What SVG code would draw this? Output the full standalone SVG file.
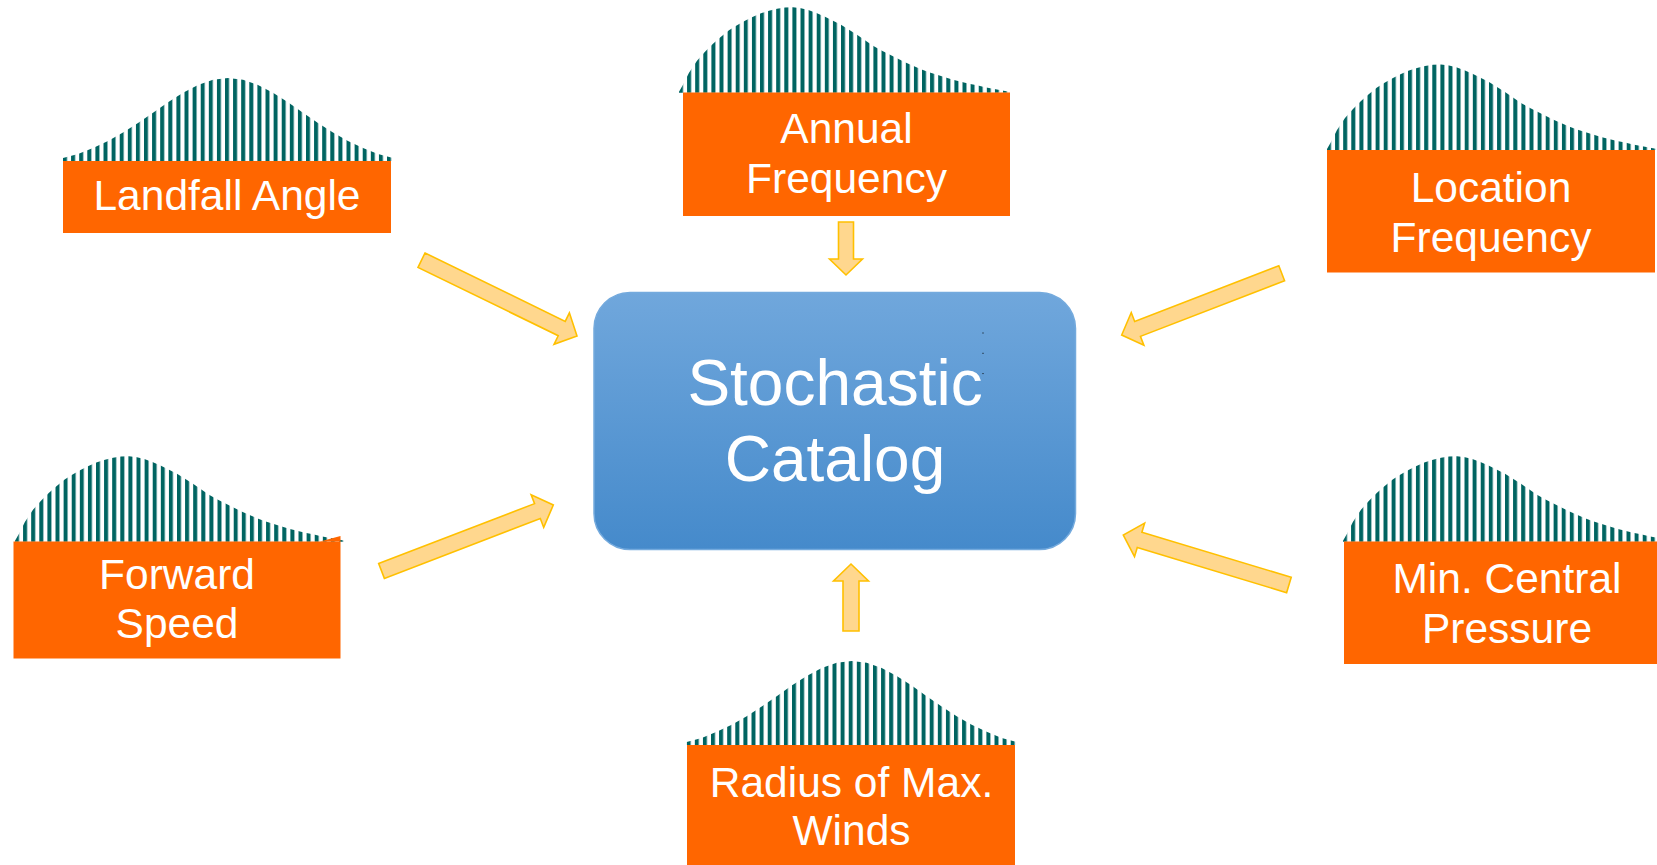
<svg xmlns="http://www.w3.org/2000/svg" xmlns:xlink="http://www.w3.org/1999/xlink" width="1657" height="865" viewBox="0 0 1657 865">
  <style>
    .box { fill: #FF6600; }
    .lbl { font-family: "Liberation Sans", Arial, sans-serif; font-size: 42.5px; fill: #FFFFFF; text-anchor: middle; }
    .core { font-family: "Liberation Sans", Arial, sans-serif; font-size: 64px; fill: #FFFFFF; text-anchor: middle; }
    .arrow { fill: #FFD78E; stroke: #FFC000; stroke-width: 1.6; stroke-linejoin: miter; }
  </style>
  <defs>
    <!-- vertical bar texture for the histograms -->
    <pattern id="bars" patternUnits="userSpaceOnUse" width="8.1" height="20">
      <rect x="0" y="0" width="4" height="20" fill="#006461"/>
    </pattern>
    <linearGradient id="coreFill" x1="0" y1="0" x2="0" y2="1">
      <stop offset="0" stop-color="#70A7DC"/>
      <stop offset="1" stop-color="#458ACB"/>
    </linearGradient>
    <!-- bell-shaped distribution, baseline at y=0 -->
    <path id="bell" fill="url(#bars)" d="M0,0 L0,-3 L15,-7 L30,-13 L45,-20 L60,-28.5 L75,-38 L90,-48.2 L105,-58.7 L120,-68.3 L135,-76.1 L150,-81.2 L165,-83 L180,-81.2 L195,-76.1 L210,-68.3 L225,-58.7 L240,-48.2 L255,-38 L270,-28.5 L285,-20 L300,-13 L315,-7 L330,-3 L330,0 Z"/>
    <!-- right-skewed distribution, baseline at y=0 -->
    <path id="skew" fill="url(#bars)" d="M0,0 L0,-1 L4,-8 L10,-20 L18,-32 L26,-41 L34,-49 L42,-56 L50,-62.5 L58,-67.5 L66,-72 L74,-76 L82,-79.5 L90,-82 L98,-84 L106,-85.3 L114,-85.5 L122,-84.5 L130,-82.5 L138,-79.5 L146,-76 L154,-72 L162,-68 L170,-63 L178,-58 L186,-52.5 L194,-47 L202,-42.5 L210,-38.5 L218,-34.5 L226,-30.5 L234,-27 L242,-23.5 L250,-20.5 L258,-18 L266,-15.5 L274,-13 L282,-11 L290,-9 L298,-7.5 L306,-5.5 L314,-4 L322,-2.5 L330,-1 L330,0 Z"/>
  </defs>

  <rect width="1657" height="865" fill="#FFFFFF"/>

  <!-- connectors -->
  <g id="connectors">
    <path class="arrow" transform="translate(577,336) rotate(26)" d="M-173,-8 L-17,-8 L-17,-17.5 L0,0 L-17,17.5 L-17,8 L-173,8 Z"/>
    <path class="arrow" transform="translate(846,275) rotate(90)" d="M-53,-7.5 L-16,-7.5 L-16,-16.5 L0,0 L-16,16.5 L-16,7.5 L-53,7.5 Z"/>
    <path class="arrow" transform="translate(1121.7,335) rotate(158.9)" d="M-171.5,-8 L-17,-8 L-17,-17.5 L0,0 L-17,17.5 L-17,8 L-171.5,8 Z"/>
    <path class="arrow" transform="translate(553.3,505) rotate(-21)" d="M-184,-8 L-17,-8 L-17,-17.5 L0,0 L-17,17.5 L-17,8 L-184,8 Z"/>
    <path class="arrow" transform="translate(1123.3,535) rotate(196.8)" d="M-173,-8 L-17,-8 L-17,-17.5 L0,0 L-17,17.5 L-17,8 L-173,8 Z"/>
    <path class="arrow" transform="translate(851,564) rotate(-90)" d="M-67,-8 L-17,-8 L-17,-17.5 L0,0 L-17,17.5 L-17,8 L-67,8 Z"/>
  </g>

  <!-- central node -->
  <g id="stochastic-catalog">
    <rect x="594" y="292.5" width="481.5" height="257" rx="36" ry="36" fill="url(#coreFill)" stroke="#74AADD" stroke-width="1.5"/>
    <line x1="983" y1="332.5" x2="983" y2="375" stroke="#000000" stroke-width="1" stroke-dasharray="1 19.3"/>
    <text class="core" x="835" y="405">Stochastic</text>
    <text class="core" x="835" y="481">Catalog</text>
  </g>

  <g id="landfall-angle">
    <use xlink:href="#bell" transform="translate(63,161)"/>
    <rect class="box" x="63" y="161" width="328" height="72"/>
    <text class="lbl" x="227" y="210">Landfall Angle</text>
  </g>

  <g id="annual-frequency">
    <use xlink:href="#skew" transform="translate(679,92.7)"/>
    <rect class="box" x="683" y="92.5" width="327" height="123.5"/>
    <text class="lbl" x="846.5" y="143.3">Annual</text>
    <text class="lbl" x="846.5" y="193">Frequency</text>
  </g>

  <g id="location-frequency">
    <use xlink:href="#skew" transform="translate(1327,150)"/>
    <rect class="box" x="1327" y="150" width="328" height="122.5"/>
    <text class="lbl" x="1491" y="201.7">Location</text>
    <text class="lbl" x="1491" y="251.7">Frequency</text>
  </g>

  <g id="forward-speed">
    <use xlink:href="#skew" transform="translate(15,541.7)"/>
    <rect class="box" x="13.5" y="541.5" width="327" height="117"/>
    <path class="box" d="M320,541.6 L340.5,536 L340.5,541.6 Z"/>
    <text class="lbl" x="177" y="588.5">Forward</text>
    <text class="lbl" x="177" y="637.5">Speed</text>
  </g>

  <g id="min-central-pressure">
    <use xlink:href="#skew" transform="translate(1343,541.7)"/>
    <rect class="box" x="1344" y="541.5" width="327" height="122.5"/>
    <text class="lbl" x="1507" y="593.3">Min. Central</text>
    <text class="lbl" x="1507" y="643.3">Pressure</text>
  </g>

  <g id="radius-max-winds">
    <use xlink:href="#bell" transform="translate(686.7,745) scale(1,1.012)"/>
    <rect class="box" x="687" y="745" width="328" height="125"/>
    <text class="lbl" x="851.5" y="796.7">Radius of Max.</text>
    <text class="lbl" x="851.5" y="845">Winds</text>
  </g>
</svg>
